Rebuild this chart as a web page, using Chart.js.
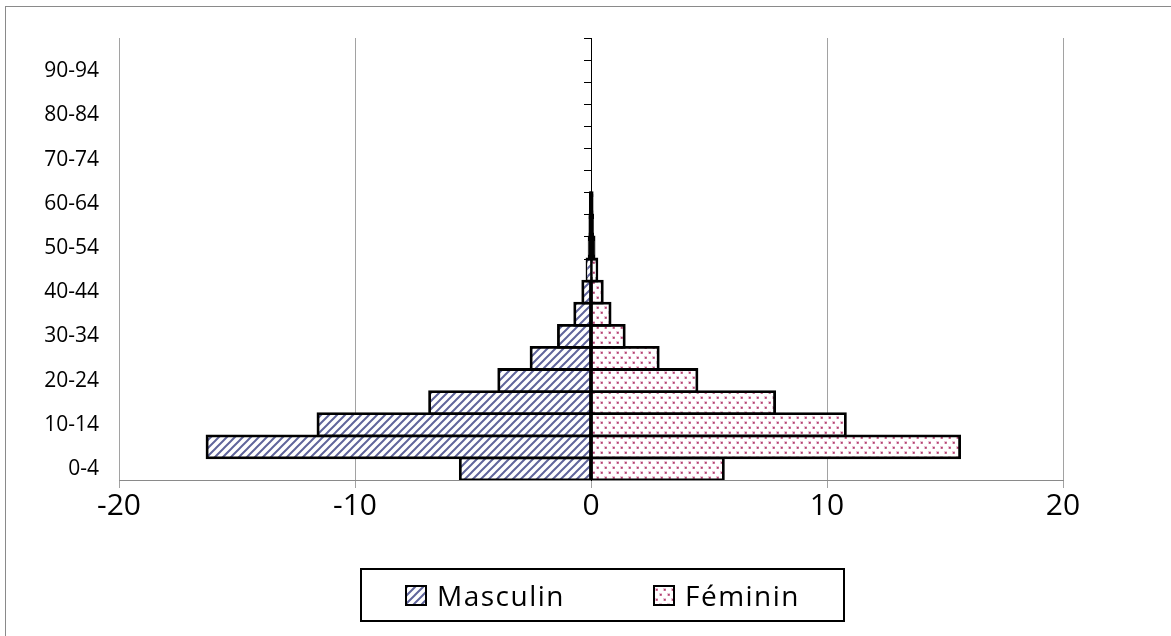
<!DOCTYPE html>
<html>
<head>
<meta charset="utf-8">
<script src="https://cdn.jsdelivr.net/npm/chart.js@4.4.1/dist/chart.umd.min.js"></script>
<style>
  html, body { margin: 0; padding: 0; background: #fff; }
  #wrap { position: relative; width: 1171px; height: 636px; overflow: hidden; }
  #frame { position: absolute; left: 5px; top: 6px; right: -4px; bottom: -4px;
           border-left: 1px solid #8a8a8a; border-top: 1px solid #8a8a8a; }
  #pyramid { position: absolute; left: 0; top: 0; }
  #legend { position: absolute; left: 360px; top: 568px; width: 481px; height: 50px;
            border: 2px solid #000; display: flex; align-items: center; justify-content: center;
            gap: 88px; font-family: 'Open Sans', sans-serif; font-size: 28px; letter-spacing: 1.5px; color: #000; }
  #legend .item { display: flex; align-items: center; }
  #legend .item canvas { border: 2px solid #000; margin-right: 10px; display: block; }
</style>
</head>
<body>
<div id="wrap">
  <div id="frame"></div>
  <canvas id="pyramid" width="1171" height="636"></canvas>
  <div id="legend"></div>
</div>
<script>
// Age groups (bottom to top) and share of the population in each, in %
const ageGroups = ['0-4', '5-9', '10-14', '15-19', '20-24', '25-29', '30-34', '35-39', '40-44', '45-49',
                   '50-54', '55-59', '60-64', '65-69', '70-74', '75-79', '80-84', '85-89', '90-94', '95-99'];
const masculin = [-5.54, -16.27, -11.57, -6.84, -3.91, -2.54, -1.38, -0.69, -0.35, -0.17,
                  -0.08, -0.05, -0.03, 0, 0, 0, 0, 0, 0, 0];
const feminin  = [5.61, 15.62, 10.78, 7.78, 4.49, 2.85, 1.41, 0.81, 0.48, 0.25,
                  0.13, 0.07, 0.05, 0, 0, 0, 0, 0, 0, 0];
const seriesNames = ['Masculin', 'Féminin'];
const xMin = -20, xMax = 20, xStep = 10;

// Hatch fills
function stripeFill(ctx) {
  const s = 8;
  const t = document.createElement('canvas');
  t.width = s; t.height = s;
  const c = t.getContext('2d');
  c.fillStyle = '#fff'; c.fillRect(0, 0, s, s);
  c.strokeStyle = '#60659b'; c.lineWidth = 2;
  c.beginPath();
  c.moveTo(-1, s + 1); c.lineTo(s + 1, -1);
  c.moveTo(-1, 1); c.lineTo(1, -1);
  c.moveTo(s - 1, s + 1); c.lineTo(s + 1, s - 1);
  c.stroke();
  return ctx.createPattern(t, 'repeat');
}
function dotFill(ctx) {
  const t = document.createElement('canvas');
  t.width = 8; t.height = 10;
  const c = t.getContext('2d');
  c.fillStyle = '#fff'; c.fillRect(0, 0, 8, 10);
  c.fillStyle = '#ebc4d6';
  c.fillRect(0, 1, 3, 3); c.fillRect(4, 6, 3, 3);
  c.fillStyle = '#b3406f';
  c.fillRect(1, 2, 1.7, 1.7); c.fillRect(5, 7, 1.7, 1.7);
  return ctx.createPattern(t, 'repeat');
}

// Bars too narrow to show their hatch are drawn as solid outline colour
function hatchOrSolid(pattern) {
  return (c) => (c.raw !== undefined && Math.abs(c.raw) < 0.15 ? '#000' : pattern);
}

function build() {
  const canvas = document.getElementById('pyramid');
  const ctx = canvas.getContext('2d');
  const fills = [stripeFill, dotFill];
  const barStyle = {
    borderColor: '#000', borderWidth: 2.8, inflateAmount: 1.4,
    borderSkipped: false, barPercentage: 1, categoryPercentage: 1
  };

  const chart = new Chart(ctx, {
    type: 'bar',
    data: {
      labels: ageGroups,
      datasets: [
        Object.assign({ label: seriesNames[0], data: masculin,
                        backgroundColor: hatchOrSolid(stripeFill(ctx)) }, barStyle),
        Object.assign({ label: seriesNames[1], data: feminin,
                        backgroundColor: hatchOrSolid(dotFill(ctx)) }, barStyle)
      ]
    },
    options: {
      indexAxis: 'y',
      responsive: false,
      animation: false,
      layout: { padding: { left: 0, top: 38, right: 108, bottom: 96 } },
      plugins: { legend: { display: false }, tooltip: { enabled: false } },
      scales: {
        x: {
          type: 'linear', min: xMin, max: xMax, stacked: true,
          ticks: { stepSize: xStep, color: '#000', padding: 0,
                   font: { family: 'Open Sans', size: 30 } },
          grid: { color: '#a2a2a2', lineWidth: 1, tickLength: 8 },
          border: { color: '#8a8a8a', width: 1 },
          afterFit: (s) => { s.height = 60; }
        },
        y: {
          type: 'category', stacked: true, reverse: true, position: 'left',
          ticks: { autoSkip: false, color: '#000', padding: 20,
                   font: { family: 'Open Sans', size: 21 },
                   callback: (v, i) => (i % 2 === 0 ? ageGroups[i] : '') },
          grid: { display: false, drawTicks: false },
          border: { display: false },
          afterFit: (s) => { s.width = 119; }
        },
        y2: {
          type: 'category', reverse: true, offset: true, position: { x: 0 },
          ticks: { display: false },
          grid: { offset: true, drawOnChartArea: false, tickLength: 7, color: '#000' },
          border: { color: '#000', width: 1, z: 1 }
        }
      }
    }
  });

  // Legend built from the chart's datasets
  const legend = document.getElementById('legend');
  chart.data.datasets.forEach((ds, i) => {
    const item = document.createElement('div');
    item.className = 'item';
    const sw = document.createElement('canvas');
    sw.width = 18; sw.height = 17;
    const sctx = sw.getContext('2d');
    sctx.fillStyle = fills[i](sctx);
    sctx.fillRect(0, 0, 18, 17);
    const txt = document.createElement('span');
    txt.textContent = ds.label;
    item.appendChild(sw);
    item.appendChild(txt);
    legend.appendChild(item);
  });
}

if (document.fonts && document.fonts.load) {
  Promise.all([document.fonts.load('30px "Open Sans"'), document.fonts.load('21px "Open Sans"')])
    .then(build, build);
} else {
  build();
}
</script>
</body>
</html>
